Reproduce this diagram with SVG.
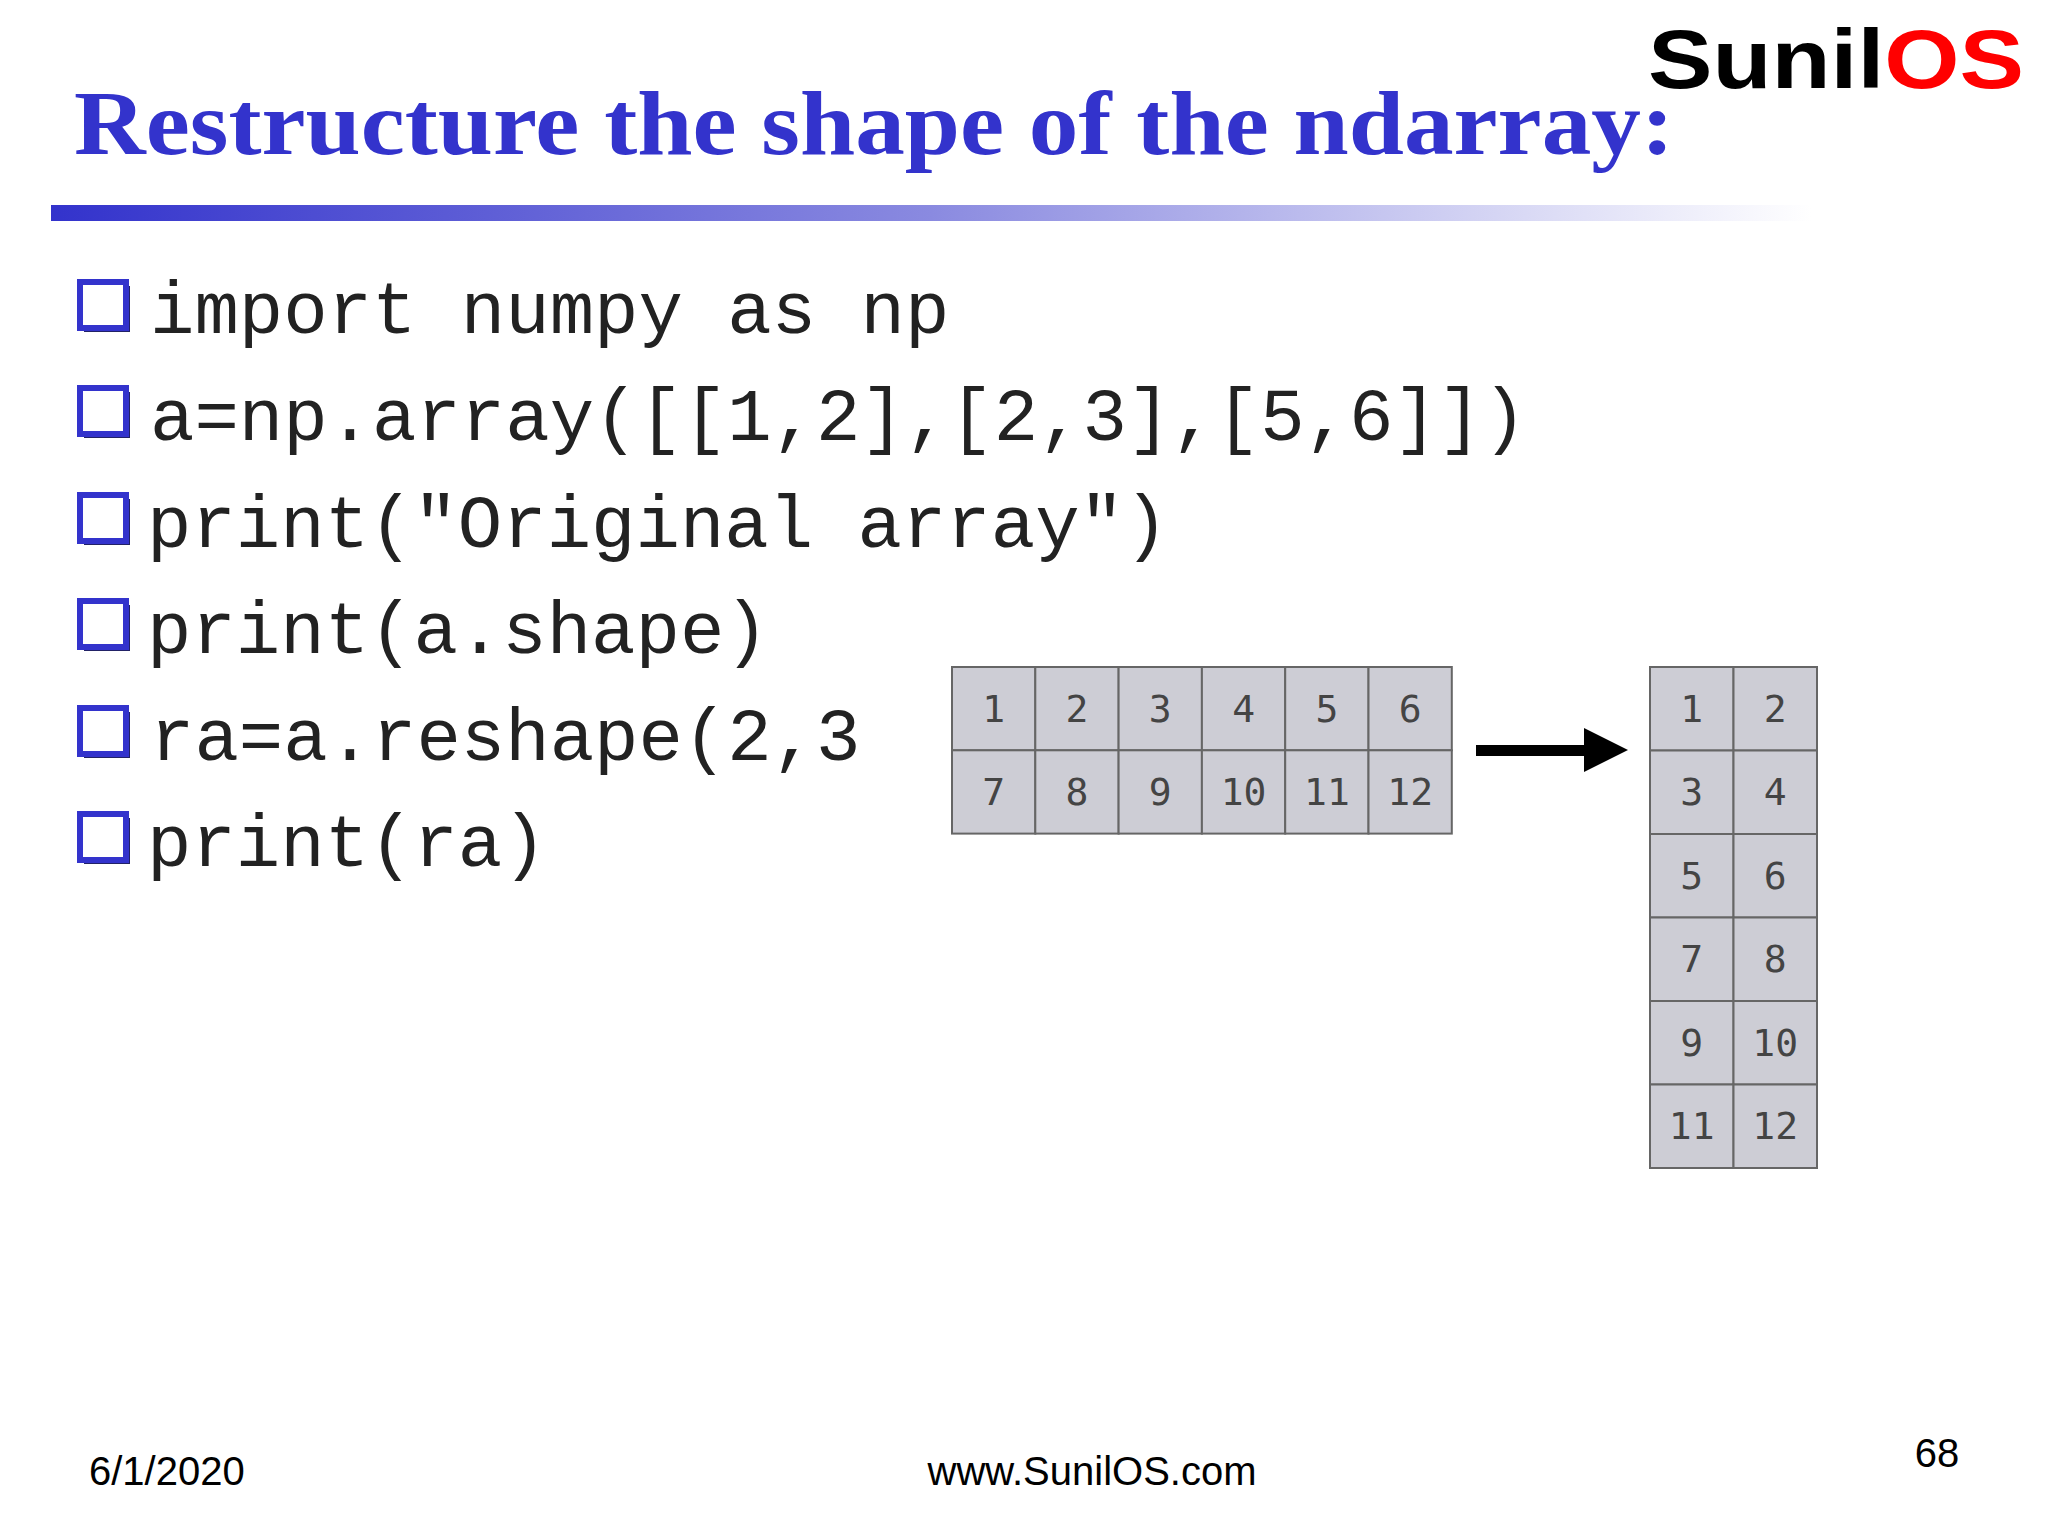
<svg xmlns="http://www.w3.org/2000/svg" width="2048" height="1536" viewBox="0 0 2048 1536">
<defs>
<linearGradient id="bar" x1="0" x2="1" y1="0" y2="0">
<stop offset="0" stop-color="#3333cc"/><stop offset="0.5" stop-color="#8a8ae0"/><stop offset="1" stop-color="#ffffff"/>
</linearGradient>
<g id="bul"><rect x="4" y="4" width="46" height="46" fill="#222266"/><rect x="0" y="0" width="46" height="46" fill="#fff" stroke="#3333cc" stroke-width="6"/></g>
</defs>
<style>
.code{font-family:"Liberation Mono","Courier New",monospace;font-size:74px;fill:#222}
.c{fill:#cdcdd5;stroke:#666;stroke-width:2}
.n{font-family:"DejaVu Sans Mono","Liberation Mono",monospace;font-size:38px;fill:#444;text-anchor:middle}
.f{font-family:"Liberation Sans",Arial,sans-serif;font-size:40px;fill:#000}
</style>
<rect width="2048" height="1536" fill="#fff"/>
<g id="title">
<text x="74" y="154" font-family="Liberation Serif,'Times New Roman',serif" font-weight="bold" font-size="90" fill="#3333cc" textLength="1600" lengthAdjust="spacingAndGlyphs">Restructure the shape of the ndarray:</text>
<rect x="51" y="205" width="1760" height="16" fill="url(#bar)"/>
</g>
<g id="logo"><text x="1648" y="88" font-family="Liberation Sans,Arial,sans-serif" font-weight="bold" font-size="84" textLength="376" lengthAdjust="spacingAndGlyphs"><tspan fill="#000">Sunil</tspan><tspan fill="#ff0000">OS</tspan></text></g>
<g id="code">
<use href="#bul" x="80" y="282"/><text class="code" x="150" y="333">import numpy as np</text>
<use href="#bul" x="80" y="388"/><text class="code" x="150" y="440">a=np.array([[1,2],[2,3],[5,6]])</text>
<use href="#bul" x="80" y="495"/><text class="code" x="147" y="547">print("Original array")</text>
<use href="#bul" x="80" y="601"/><text class="code" x="147" y="653">print(a.shape)</text>
<use href="#bul" x="80" y="708"/><text class="code" x="150" y="760">ra=a.reshape(2,3</text>
<use href="#bul" x="80" y="814"/><text class="code" x="147" y="866">print(ra)</text>
</g>
<g id="grid1">
<rect class="c" x="952" y="667" width="83.3" height="83.3"/><text class="n" x="993.7" y="722">1</text>
<rect class="c" x="1035.3" y="667" width="83.3" height="83.3"/><text class="n" x="1077" y="722">2</text>
<rect class="c" x="1118.6" y="667" width="83.3" height="83.3"/><text class="n" x="1160.3" y="722">3</text>
<rect class="c" x="1201.9" y="667" width="83.3" height="83.3"/><text class="n" x="1243.6" y="722">4</text>
<rect class="c" x="1285.2" y="667" width="83.3" height="83.3"/><text class="n" x="1326.9" y="722">5</text>
<rect class="c" x="1368.5" y="667" width="83.3" height="83.3"/><text class="n" x="1410.2" y="722">6</text>
<rect class="c" x="952" y="750.3" width="83.3" height="83.3"/><text class="n" x="993.7" y="805">7</text>
<rect class="c" x="1035.3" y="750.3" width="83.3" height="83.3"/><text class="n" x="1077" y="805">8</text>
<rect class="c" x="1118.6" y="750.3" width="83.3" height="83.3"/><text class="n" x="1160.3" y="805">9</text>
<rect class="c" x="1201.9" y="750.3" width="83.3" height="83.3"/><text class="n" x="1243.6" y="805">10</text>
<rect class="c" x="1285.2" y="750.3" width="83.3" height="83.3"/><text class="n" x="1326.9" y="805">11</text>
<rect class="c" x="1368.5" y="750.3" width="83.3" height="83.3"/><text class="n" x="1410.2" y="805">12</text>
</g>
<g id="connectors">
<rect x="1476" y="745" width="110" height="11" fill="#000"/>
<polygon points="1584,728 1628,750 1584,772" fill="#000"/>
</g>
<g id="grid2">
<rect class="c" x="1650" y="667" width="83.5" height="83.5"/><text class="n" x="1691.7" y="722">1</text>
<rect class="c" x="1733.5" y="667" width="83.5" height="83.5"/><text class="n" x="1775.2" y="722">2</text>
<rect class="c" x="1650" y="750.5" width="83.5" height="83.5"/><text class="n" x="1691.7" y="805">3</text>
<rect class="c" x="1733.5" y="750.5" width="83.5" height="83.5"/><text class="n" x="1775.2" y="805">4</text>
<rect class="c" x="1650" y="834" width="83.5" height="83.5"/><text class="n" x="1691.7" y="889">5</text>
<rect class="c" x="1733.5" y="834" width="83.5" height="83.5"/><text class="n" x="1775.2" y="889">6</text>
<rect class="c" x="1650" y="917.5" width="83.5" height="83.5"/><text class="n" x="1691.7" y="972">7</text>
<rect class="c" x="1733.5" y="917.5" width="83.5" height="83.5"/><text class="n" x="1775.2" y="972">8</text>
<rect class="c" x="1650" y="1001" width="83.5" height="83.5"/><text class="n" x="1691.7" y="1056">9</text>
<rect class="c" x="1733.5" y="1001" width="83.5" height="83.5"/><text class="n" x="1775.2" y="1056">10</text>
<rect class="c" x="1650" y="1084.5" width="83.5" height="83.5"/><text class="n" x="1691.7" y="1139">11</text>
<rect class="c" x="1733.5" y="1084.5" width="83.5" height="83.5"/><text class="n" x="1775.2" y="1139">12</text>
</g>
<g id="footer">
<text class="f" x="89" y="1485">6/1/2020</text>
<text class="f" x="1092" y="1485" text-anchor="middle">www.SunilOS.com</text>
<text class="f" x="1937" y="1467" text-anchor="middle">68</text>
</g>
</svg>
